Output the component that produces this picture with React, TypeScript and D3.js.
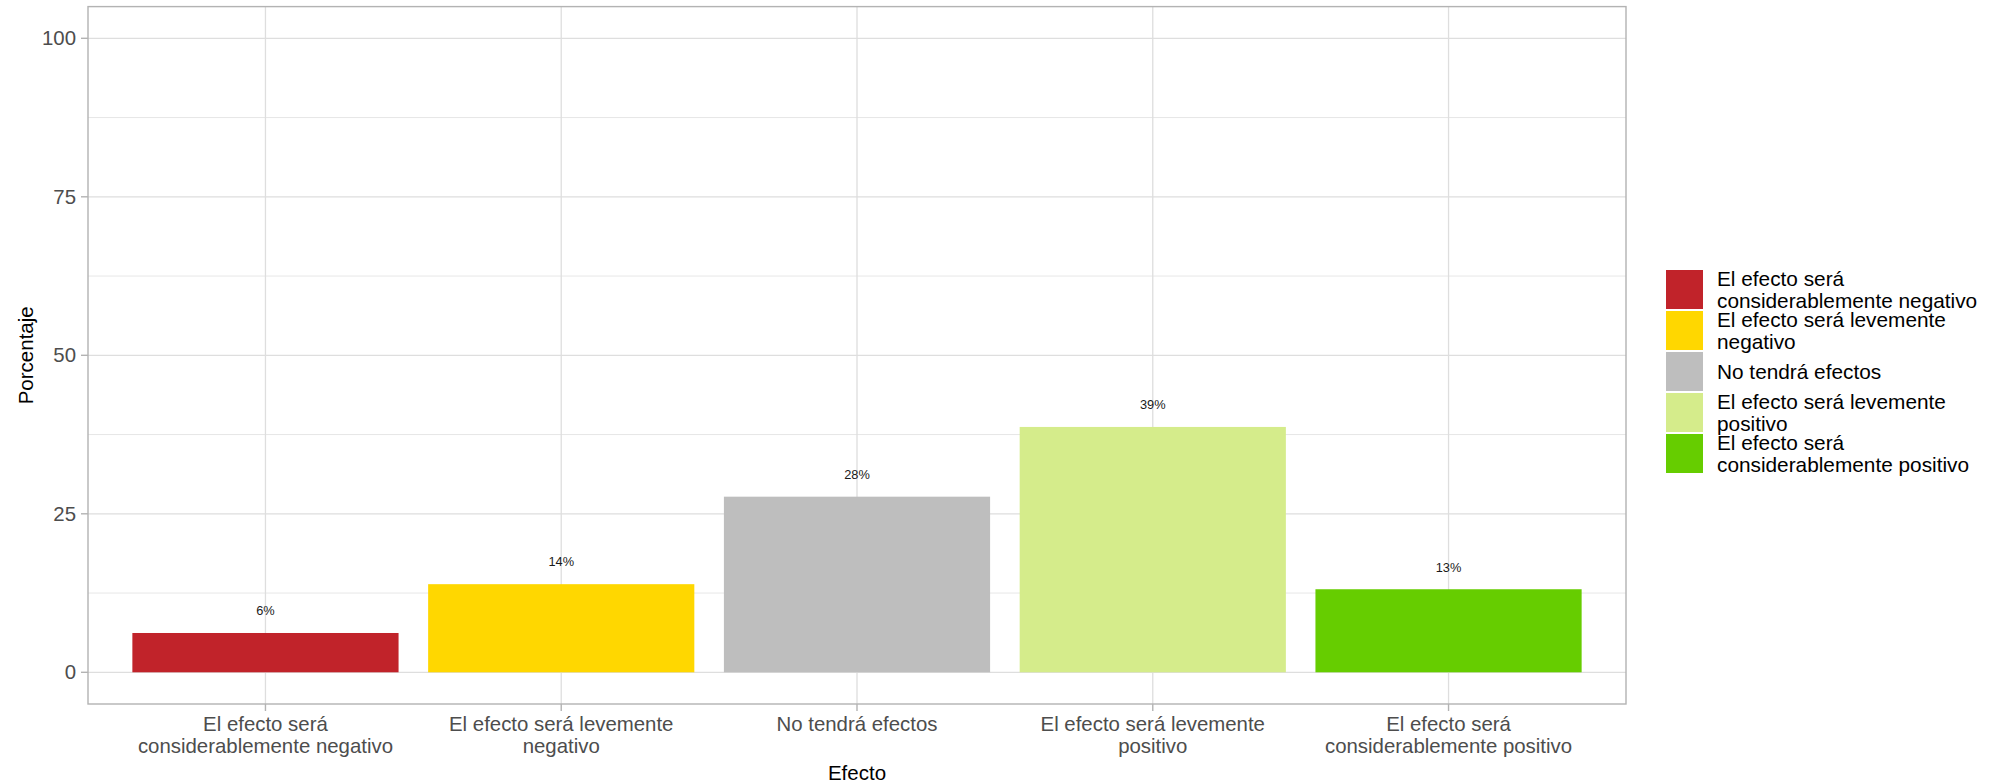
import React from "react";
import * as d3 from "d3";

const categories = [
  "El efecto será\nconsiderablemente negativo",
  "El efecto será levemente\nnegativo",
  "No tendrá efectos",
  "El efecto será levemente\npositivo",
  "El efecto será\nconsiderablemente positivo",
];
const values = [6.2, 13.9, 27.7, 38.7, 13.1];
const labels = ["6%", "14%", "28%", "39%", "13%"];
const colors = ["#C1232A", "#FFD700", "#BEBEBE", "#D5EC8B", "#66CD00"];
const yTicks = [0, 25, 50, 75, 100];
const yMinor = [12.5, 37.5, 62.5, 87.5];

const W = 2000;
const H = 784;
const panel = { left: 88, top: 6.6, right: 1626, bottom: 704 };
const FONT = "'Liberation Sans', Arial, Helvetica, sans-serif";

export default function App() {
  const y = d3.scaleLinear().domain([-5, 105]).range([panel.bottom, panel.top]);
  const n = categories.length;
  const unit = (panel.right - panel.left) / (n - 1 + 1.2);
  const xc = (i: number) => panel.left + unit * (0.6 + i);
  const barW = unit * 0.9;
  const lineH = 21.7;

  const legendTop = 270;
  const legendStride = 41;
  const keyH = 39;
  const keyX = 1666;
  const keyW = 37;

  return (
    <svg
      width={W}
      height={H}
      style={{ position: "absolute", left: 0, top: 0, background: "#fff" }}
      fontFamily={FONT}
    >
      <rect x={0} y={0} width={W} height={H} fill="#fff" />
      {yMinor.map((t) => (
        <line key={"mn" + t} x1={panel.left} x2={panel.right} y1={y(t)} y2={y(t)} stroke="#E0E0E0" strokeWidth={0.8} />
      ))}
      {yTicks.map((t) => (
        <line key={"mj" + t} x1={panel.left} x2={panel.right} y1={y(t)} y2={y(t)} stroke="#DEDEDE" strokeWidth={1.3} />
      ))}
      {categories.map((c, i) => (
        <line key={"vx" + i} x1={xc(i)} x2={xc(i)} y1={panel.top} y2={panel.bottom} stroke="#DEDEDE" strokeWidth={1.3} />
      ))}
      {values.map((v, i) => (
        <rect key={"b" + i} x={xc(i) - barW / 2} y={y(v)} width={barW} height={y(0) - y(v)} fill={colors[i]} />
      ))}
      {values.map((v, i) => (
        <text key={"l" + i} x={xc(i)} y={y(v + 3.5)} textAnchor="middle" dominantBaseline="central" fontSize={12.8} fill="#1a1a1a">
          {labels[i]}
        </text>
      ))}
      <rect x={panel.left} y={panel.top} width={panel.right - panel.left} height={panel.bottom - panel.top} fill="none" stroke="#B3B3B3" strokeWidth={1.4} />
      {yTicks.map((t) => (
        <g key={"yt" + t}>
          <line x1={panel.left - 7} x2={panel.left} y1={y(t)} y2={y(t)} stroke="#B3B3B3" strokeWidth={1.4} />
          <text x={panel.left - 12} y={y(t)} textAnchor="end" dominantBaseline="central" fontSize={20.4} fill="#4D4D4D">
            {t}
          </text>
        </g>
      ))}
      {categories.map((c, i) => {
        const lines = c.split("\n");
        return (
          <g key={"xt" + i}>
            <line x1={xc(i)} x2={xc(i)} y1={panel.bottom} y2={panel.bottom + 7} stroke="#B3B3B3" strokeWidth={1.4} />
            {lines.map((ln, j) => (
              <text key={j} x={xc(i)} y={724 + j * lineH} textAnchor="middle" dominantBaseline="central" fontSize={20.4} fill="#4D4D4D">
                {ln}
              </text>
            ))}
          </g>
        );
      })}
      <text x={(panel.left + panel.right) / 2} y={772} textAnchor="middle" dominantBaseline="central" fontSize={20.5} fill="#000">
        Efecto
      </text>
      <text
        transform={`translate(25, ${(panel.top + panel.bottom) / 2}) rotate(-90)`}
        textAnchor="middle"
        dominantBaseline="central"
        fontSize={20.5}
        fill="#000"
      >
        Porcentaje
      </text>
      {categories.map((c, i) => {
        const top = legendTop + i * legendStride;
        const cy = top + keyH / 2;
        const lines = c.split("\n");
        const start = cy - ((lines.length - 1) * lineH) / 2;
        return (
          <g key={"lg" + i}>
            <rect x={keyX} y={top} width={keyW} height={keyH} fill={colors[i]} />
            {lines.map((ln, j) => (
              <text key={j} x={1717} y={start + j * lineH} dominantBaseline="central" fontSize={20.8} fill="#000">
                {ln}
              </text>
            ))}
          </g>
        );
      })}
    </svg>
  );
}
